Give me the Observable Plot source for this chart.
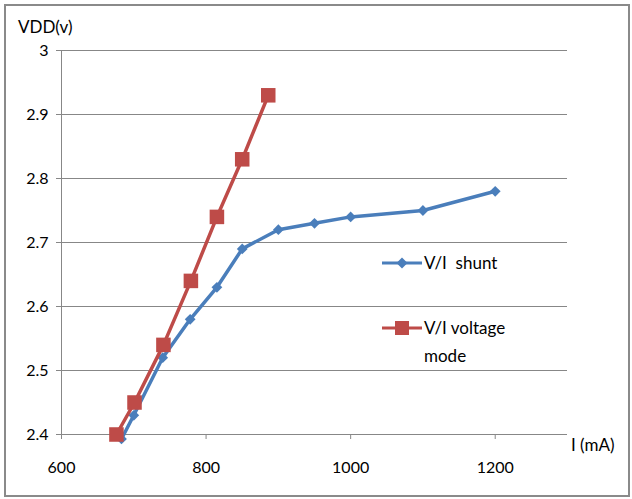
<!DOCTYPE html>
<html>
<head>
<meta charset="utf-8">
<script src="https://cdn.jsdelivr.net/npm/d3@7"></script>
<script src="https://cdn.jsdelivr.net/npm/@observablehq/plot@0.6"></script>
<style>
  html, body { margin: 0; padding: 0; background: #fff; }
  #wrap { position: relative; width: 632px; height: 499px; font-family: Lato, "Open Sans", sans-serif; color: #000; }
  #frame { position: absolute; left: 4px; top: 4px; width: 622px; height: 489px; border: 2px solid #8a8a8a; pointer-events: none; }
  .lbl { position: absolute; font-size: 17px; white-space: nowrap; }
  #legend { position: absolute; left: 380px; top: 252px; font-size: 17px; }
  .li { position: relative; height: 22px; }
  .li svg { position: absolute; left: 0; top: 0; }
  .li span { position: absolute; left: 44px; top: 0; line-height: 22px; }
</style>
</head>
<body>
<div id="wrap">
  <div id="chart"></div>
  <div class="lbl" style="left:18px;top:16px;">VDD(v)</div>
  <div class="lbl" style="left:571px;top:434px;">I (mA)</div>
  <div id="legend"></div>
  <div id="frame"></div>
</div>
<script>
// Data
const shuntI    = [683, 700, 740, 778, 815, 850, 900, 950, 1000, 1100, 1200];
const shuntV    = [2.393, 2.43, 2.52, 2.58, 2.63, 2.69, 2.72, 2.73, 2.74, 2.75, 2.78];
const voltageI  = [676, 701, 741, 779, 815, 850, 886];
const voltageV  = [2.40, 2.45, 2.54, 2.64, 2.74, 2.83, 2.93];
const xTicks    = [600, 800, 1000, 1200];
const yTicks    = [2.4, 2.5, 2.6, 2.7, 2.8, 2.9, 3.0];
const seriesNames = ["V/I  shunt", "V/I voltage\nmode"];
const seriesColors = ["#4A7EBB", "#BE4B48"];

const shunt = shuntI.map((x, i) => ({x, y: shuntV[i]}));
const volt = voltageI.map((x, i) => ({x, y: voltageV[i]}));
const grid = "#878787";

const chart = Plot.plot({
  width: 632,
  height: 499,
  marginLeft: 61,
  marginRight: 65,
  marginTop: 50,
  marginBottom: 65,
  style: { fontFamily: "Lato, 'Open Sans', sans-serif", fontSize: "16px", color: "#000", background: "transparent" },
  x: { domain: [600, 1300] },
  y: { domain: [2.4, 3.0] },
  marks: [
    Plot.ruleY(yTicks, { stroke: grid, strokeWidth: 1 }),
    Plot.ruleX([600], { stroke: grid, strokeWidth: 1 }),
    Plot.axisY({ ticks: yTicks, tickSize: 5, tickPadding: 8, stroke: grid, tickFormat: d => d3.format("")(+d.toFixed(1)), fill: "#000", label: null }),
    Plot.axisX({ ticks: xTicks, tickSize: 5, tickPadding: 22, stroke: grid, tickFormat: d => String(d), fill: "#000", label: null }),
    Plot.line(shunt, { x: "x", y: "y", stroke: seriesColors[0], strokeWidth: 3.5 }),
    Plot.dot(shunt, { x: "x", y: "y", symbol: "square", rotate: 45, r: 4.3, fill: seriesColors[0], stroke: "none" }),
    Plot.line(volt, { x: "x", y: "y", stroke: seriesColors[1], strokeWidth: 3.5 }),
    Plot.dot(volt, { x: "x", y: "y", symbol: "square", r: 8.2, fill: seriesColors[1], stroke: "none" })
  ]
});
document.getElementById("chart").appendChild(chart);

// Legend
const legend = d3.select("#legend");
seriesNames.forEach((name, i) => {
  const item = legend.append("div").attr("class", "li").style("margin-bottom", i === 0 ? "43px" : "0");
  const svg = item.append("svg").attr("width", 44).attr("height", 22);
  svg.append("line").attr("x1", 2).attr("x2", 42).attr("y1", 11).attr("y2", 11)
    .attr("stroke", seriesColors[i]).attr("stroke-width", 3);
  if (i === 0) {
    svg.append("path").attr("d", "M22,5.5 L27.5,11 L22,16.5 L16.5,11 Z").attr("fill", seriesColors[i]);
  } else {
    svg.append("rect").attr("x", 15).attr("y", 4).attr("width", 14).attr("height", 14).attr("fill", seriesColors[i]);
  }
  const lines = name.split("\n");
  const span = item.append("span");
  lines.forEach((t, j) => {
    if (j) span.append("br");
    span.append("tspan").text(t);
  });
  span.style("line-height", "28px").style("top", "-3px").style("white-space", "pre");
});
</script>
</body>
</html>
